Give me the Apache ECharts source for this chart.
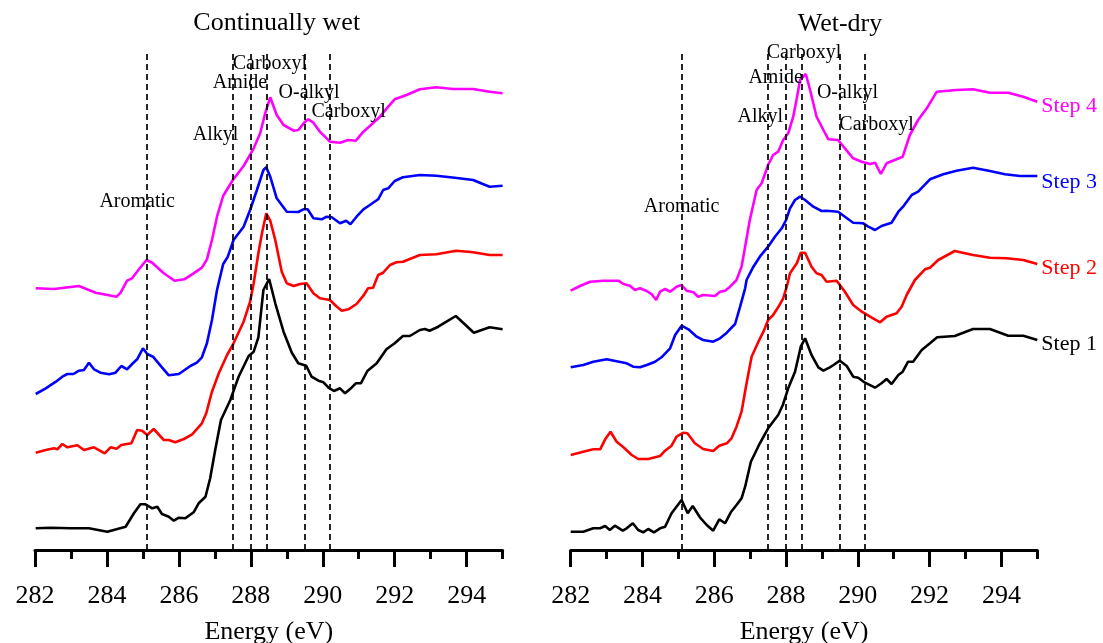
<!DOCTYPE html>
<html><head><meta charset="utf-8">
<script src="https://cdn.jsdelivr.net/npm/echarts@6/dist/echarts.min.js"></script>
<style>html,body{margin:0;padding:0;background:#fff}#c{width:1103px;height:643px}</style>
</head><body><div id="c"></div>
<script>
const FONT = "'Liberation Serif','Times New Roman',serif";
const panelTitles = ['Continually wet', 'Wet-dry'];
const stepNames = ['Step 1', 'Step 2', 'Step 3', 'Step 4'];
const majorTicks = [282, 284, 286, 288, 290, 292, 294];
const minorTicks = [283, 285, 287, 289, 291, 293, 295];
const peakNames = ['Aromatic', 'Alkyl', 'Amide', 'Carboxyl', 'O-alkyl', 'Carboxyl'];
const peakEnergies = [285.1, 287.5, 288.0, 288.45, 289.5, 290.2];
const wetLabelAt = [[284.84, 348], [287.02, 415], [287.70, 467], [288.53, 486], [289.62, 457], [290.72, 438]];
const dryLabelAt = [[285.09, 343], [287.28, 433], [287.71, 472], [288.50, 497], [289.71, 457], [290.52, 425]];

// Continually wet (offset spectra, arbitrary units)
const wetStep1 = [[282.02,21.7],[282.44,22.3],[282.99,21.7],[283.50,21.7],[284.01,18.3],[284.52,23.3],[284.75,36.7],[284.93,45.7],[285.07,45.7],[285.26,41.7],[285.40,43.3],[285.53,36],[285.72,33.3],[285.86,29.3],[286.00,32.3],[286.18,31.7],[286.41,37.7],[286.55,46.7],[286.74,53.3],[286.87,71.7],[287.01,100],[287.17,130],[287.43,150],[287.66,173.3],[287.94,194],[288.08,198.3],[288.21,212.7],[288.35,260],[288.40,261.7],[288.51,271],[288.68,246.7],[288.91,218.3],[289.14,197.3],[289.32,186.7],[289.54,184.3],[289.69,173.3],[289.88,169.3],[290.02,167.7],[290.16,162.3],[290.31,159],[290.48,161.7],[290.62,156.7],[290.80,162.3],[290.92,166.7],[291.06,166.7],[291.24,179],[291.50,186.7],[291.77,200.7],[292.00,206.7],[292.23,214],[292.42,214],[292.70,220],[292.84,221],[292.97,219.3],[293.21,223.3],[293.44,228.3],[293.70,234],[293.94,226],[294.20,217.3],[294.64,222.7],[295.00,220.7]];
const wetStep2 = [[282.02,97.3],[282.30,100],[282.53,101.7],[282.62,100.7],[282.76,106],[282.90,102.7],[283.18,104.7],[283.36,100],[283.64,102.7],[283.94,96.7],[284.10,102.7],[284.27,101.3],[284.40,105],[284.68,106.7],[284.84,120],[284.98,119.3],[285.12,115],[285.30,121],[285.58,110],[285.72,110],[285.90,107.7],[286.14,111],[286.37,115.7],[286.64,126.7],[286.76,136.7],[286.92,158.3],[287.11,176.7],[287.34,195],[287.52,206.7],[287.80,228.3],[287.98,248.3],[288.08,266.7],[288.21,296.7],[288.31,316.7],[288.43,336.7],[288.54,329.3],[288.68,310],[288.86,278.3],[289.00,266.7],[289.19,264],[289.37,266],[289.55,266.7],[289.74,256.7],[289.92,251.7],[290.20,250],[290.37,244],[290.53,239.3],[290.71,240.7],[290.94,246],[291.13,254.3],[291.26,261.7],[291.40,262.3],[291.54,275],[291.68,277.3],[291.87,285],[292.05,287.7],[292.23,288.3],[292.70,295],[293.16,295.7],[293.71,299.3],[294.18,297.7],[294.64,295],[295.00,295]];
const wetStep3 = [[282.02,156],[282.30,161.7],[282.58,168.3],[282.76,173.3],[282.90,176],[283.07,176],[283.22,179.3],[283.36,180],[283.50,187.3],[283.64,180.7],[283.82,177.3],[284.06,175.7],[284.24,177.3],[284.40,184],[284.56,180.7],[284.70,186],[284.84,190.7],[285.00,201.7],[285.12,196],[285.28,193.3],[285.53,182.7],[285.72,174.7],[286.00,176],[286.32,184],[286.50,187.3],[286.64,192.7],[286.78,206.7],[286.92,230],[287.06,260],[287.23,285.7],[287.36,293.3],[287.52,310],[287.80,323.3],[287.98,340],[288.17,360],[288.35,380],[288.43,382.7],[288.54,373.3],[288.72,351.7],[289.00,338.3],[289.32,338],[289.46,340.7],[289.58,340.7],[289.74,331.7],[289.97,330.7],[290.11,333.3],[290.25,332.7],[290.48,326.7],[290.65,329.3],[290.77,325.7],[290.94,333.3],[291.13,340.7],[291.31,345],[291.54,350.7],[291.68,360],[291.82,361.7],[292.00,369],[292.23,372.7],[292.70,375],[293.16,374.3],[293.67,372.3],[294.18,370],[294.45,366],[294.64,363.3],[295.00,364.3]];
const wetStep4 = [[282.02,261.7],[282.53,261],[283.22,264],[283.69,257.3],[284.27,253.3],[284.38,257.3],[284.56,269.3],[284.70,271.7],[284.89,280.7],[285.10,290],[285.26,287.3],[285.58,276.7],[285.88,269.3],[286.15,270.7],[286.41,276.7],[286.64,282.3],[286.78,290.7],[286.92,310],[287.06,333.3],[287.23,354],[287.50,370],[287.80,384],[288.08,401.7],[288.26,416.7],[288.40,436.7],[288.54,452.7],[288.72,435],[288.91,425],[289.19,419.3],[289.32,420],[289.51,428.3],[289.60,430.7],[289.74,427.3],[289.92,418.3],[290.20,408.3],[290.48,407.3],[290.71,410],[290.92,409.3],[291.13,418.3],[291.31,424],[291.59,433.3],[291.82,443.3],[292.00,450.7],[292.33,455],[292.70,460.7],[293.16,462.7],[293.62,461],[294.18,461],[294.64,458.3],[295.00,456.7]];

// Wet-dry
const dryStep1 = [[282.00,18.3],[282.35,18.3],[282.63,21.7],[282.82,21.7],[282.96,24],[283.09,20],[283.23,24.3],[283.45,19.3],[283.56,21.7],[283.73,26.7],[283.88,20],[284.02,17.7],[284.16,21],[284.32,17.7],[284.49,21.7],[284.63,23.3],[284.81,36.7],[285.09,50],[285.26,36.7],[285.40,44],[285.60,32.7],[285.79,25],[285.97,19.3],[286.14,30.7],[286.30,26.7],[286.46,37.7],[286.62,45],[286.76,51.7],[286.86,63.3],[287.02,88.3],[287.27,106.7],[287.50,121.7],[287.78,135],[287.91,145],[288.06,161.7],[288.25,178.3],[288.41,203.3],[288.53,211.7],[288.71,195],[288.90,182.7],[289.04,179.3],[289.22,182.7],[289.32,185],[289.50,189.3],[289.69,184],[289.87,173.3],[290.01,172.3],[290.20,167.3],[290.48,162.3],[290.66,166.7],[290.80,171],[290.94,166],[291.13,175],[291.25,178.3],[291.40,188.3],[291.54,188.3],[291.78,200],[292.01,206.7],[292.21,212.7],[292.70,214],[293.21,221],[293.68,221],[294.19,214.3],[294.61,214.3],[295.00,210]];
const dryStep2 = [[282.00,95],[282.35,98.3],[282.63,100.7],[282.82,100.7],[282.96,110.7],[283.11,118.3],[283.28,108.3],[283.47,102.7],[283.70,95],[283.88,91],[284.16,91],[284.49,94],[284.63,99.3],[284.81,104.3],[284.95,113.3],[285.14,117.3],[285.25,116.7],[285.46,106.7],[285.69,101],[285.97,99],[286.14,104.3],[286.35,106.7],[286.48,111.7],[286.62,123.3],[286.76,138.3],[286.90,166.7],[287.04,193.3],[287.23,208.3],[287.37,218.3],[287.50,230],[287.64,235],[287.78,242.7],[287.92,251.7],[288.02,263.3],[288.11,276.7],[288.30,286.7],[288.41,297.3],[288.53,297.3],[288.71,283.3],[288.85,276.7],[288.99,275],[289.13,268.3],[289.41,269.3],[289.64,258.3],[289.87,245],[290.11,238.3],[290.34,233.3],[290.62,227.7],[290.80,233.3],[291.08,236.7],[291.22,243.3],[291.36,255],[291.59,270],[291.87,280.7],[292.01,282.3],[292.24,290],[292.70,299],[293.21,295],[293.68,292.3],[294.14,291.7],[294.61,290],[295.00,286]];
const dryStep3 = [[282.00,182.7],[282.35,185],[282.63,188.3],[283.00,190.7],[283.42,187.7],[283.56,186.7],[283.74,183.3],[283.93,182.7],[284.12,185],[284.35,188.3],[284.53,192.7],[284.77,201.7],[284.91,215],[285.09,224.3],[285.28,220.7],[285.51,213.3],[285.69,210],[285.97,208.3],[286.16,211.7],[286.35,217.3],[286.58,226],[286.72,243.3],[286.86,261.7],[286.90,270],[287.09,283.3],[287.27,293.3],[287.50,303.3],[287.69,313.3],[287.88,321.7],[288.00,330],[288.11,341.7],[288.25,350],[288.39,353.3],[288.53,350],[288.76,343.3],[288.99,339],[289.13,339.3],[289.45,338.3],[289.64,333.3],[289.87,327.3],[290.15,326.7],[290.29,323.3],[290.48,320],[290.66,324],[290.94,327.3],[291.13,338.3],[291.26,343.3],[291.50,355],[291.68,358.3],[292.01,370.7],[292.38,375.7],[292.75,379.3],[293.21,382.3],[293.68,379],[294.10,375.7],[294.52,374],[295.00,374]];
const dryStep4 = [[282.00,259.3],[282.26,264],[282.54,268.3],[282.91,269.3],[283.33,269.3],[283.47,266],[283.65,264.3],[283.79,260],[283.93,261.7],[284.12,259],[284.26,255.7],[284.38,250],[284.49,258.3],[284.63,261],[284.77,258.3],[284.95,263.3],[285.09,265],[285.23,259.3],[285.42,257.7],[285.55,253.3],[285.69,255],[286.02,254],[286.16,258.3],[286.30,259.3],[286.44,263.3],[286.62,270],[286.76,283.3],[286.86,303.3],[286.99,330],[287.18,360],[287.32,366.7],[287.50,385],[287.64,395],[287.78,398.3],[287.92,410],[288.06,416.7],[288.20,433.3],[288.30,451.7],[288.39,470],[288.55,476],[288.67,460],[288.85,433.3],[289.04,420],[289.18,410.7],[289.45,410],[289.64,401.7],[289.87,391.7],[290.11,388.3],[290.34,386],[290.48,387.3],[290.64,376],[290.80,386.7],[291.03,390],[291.25,393.3],[291.45,415],[291.68,430],[291.92,441.7],[292.20,458.3],[292.75,460],[293.21,460.7],[293.68,457.3],[294.19,457.3],[294.61,453.3],[295.00,448.3]];

const wetSteps = [wetStep1, wetStep2, wetStep3, wetStep4];
const drySteps = [dryStep1, dryStep2, dryStep3, dryStep4];
const stepColors = ['#000000', '#ff0000', '#0000ff', '#ff00ff'];
const endLabelShift = [4, 4, 6, 5];

const chart = echarts.init(document.getElementById('c'), null, {renderer: 'canvas'});

function mainX(gi) {
  return {
    gridIndex: gi, type: 'value', min: 282, max: 295, interval: 2, position: 'bottom',
    axisLine: {show: true, onZero: false, lineStyle: {color: '#000', width: 3}},
    axisTick: {show: true, length: 17, customValues: majorTicks, lineStyle: {color: '#000', width: 3}},
    axisLabel: {show: true, customValues: majorTicks, color: '#000', fontSize: 26, fontFamily: FONT, margin: 33},
    splitLine: {show: false},
    name: 'Energy (eV)', nameLocation: 'middle', nameGap: 69,
    nameTextStyle: {color: '#000', fontSize: 26, fontFamily: FONT}
  };
}
function minorX(gi) {
  return {
    gridIndex: gi, type: 'value', min: 282, max: 295, interval: 1, position: 'bottom',
    axisLine: {show: false, onZero: false},
    axisTick: {show: true, length: 9, customValues: minorTicks, lineStyle: {color: '#000', width: 3}},
    axisLabel: {show: false}, splitLine: {show: false}
  };
}
function yAx(gi) {
  return {gridIndex: gi, type: 'value', min: 0, max: 550, show: false, splitLine: {show: false}};
}

const series = [];
[wetSteps, drySteps].forEach(function (steps, p) {
  steps.forEach(function (d, s) {
    const ser = {
      type: 'line', xAxisIndex: p * 2, yAxisIndex: p, data: d, symbol: 'none',
      lineStyle: {color: stepColors[s], width: 2.6}, itemStyle: {color: stepColors[s]},
      z: 3, animation: false, silent: true
    };
    if (p === 1) {
      ser.endLabel = {
        show: true, formatter: stepNames[s], color: stepColors[s], fontSize: 22,
        fontFamily: FONT, distance: 4, offset: [0, endLabelShift[s]]
      };
    }
    if (s === 0) {
      ser.markLine = {
        silent: true, animation: false, symbol: ['none', 'none'],
        label: {show: false},
        lineStyle: {color: '#000', width: 1.7, type: [6, 4]},
        data: peakEnergies.map(function (e) { return [{coord: [e, 0]}, {coord: [e, 500]}]; })
      };
    }
    series.push(ser);
  });
});

chart.setOption({
  animation: false,
  backgroundColor: '#fff',
  grid: [
    {left: 35, top: 0, width: 467.6, height: 550, outerBoundsMode: 'none', containLabel: false},
    {left: 570.7, top: 0, width: 466.6, height: 550, outerBoundsMode: 'none', containLabel: false}
  ],
  xAxis: [mainX(0), minorX(0), mainX(1), minorX(1)],
  yAxis: [yAx(0), yAx(1)],
  series: series
});

// Panel titles and peak annotations, placed through the chart's own axes
const texts = [
  {type: 'text', x: 276.7, y: 23, style: {text: panelTitles[0], fill: '#000', font: '26px ' + FONT, textAlign: 'center', align: 'center', textVerticalAlign: 'middle', verticalAlign: 'middle'}},
  {type: 'text', x: 840, y: 24, style: {text: panelTitles[1], fill: '#000', font: '26px ' + FONT, textAlign: 'center', align: 'center', textVerticalAlign: 'middle', verticalAlign: 'middle'}}
];
[wetLabelAt, dryLabelAt].forEach(function (pos, p) {
  peakNames.forEach(function (n, i) {
    const px = chart.convertToPixel({xAxisIndex: p * 2, yAxisIndex: p}, pos[i]);
    texts.push({type: 'text', x: px[0], y: px[1], z: 10, silent: true,
      style: {text: n, fill: '#000', font: '20px ' + FONT, textAlign: 'center', align: 'center', textVerticalAlign: 'middle', verticalAlign: 'middle'}});
  });
});
chart.setOption({graphic: texts});
</script></body></html>
